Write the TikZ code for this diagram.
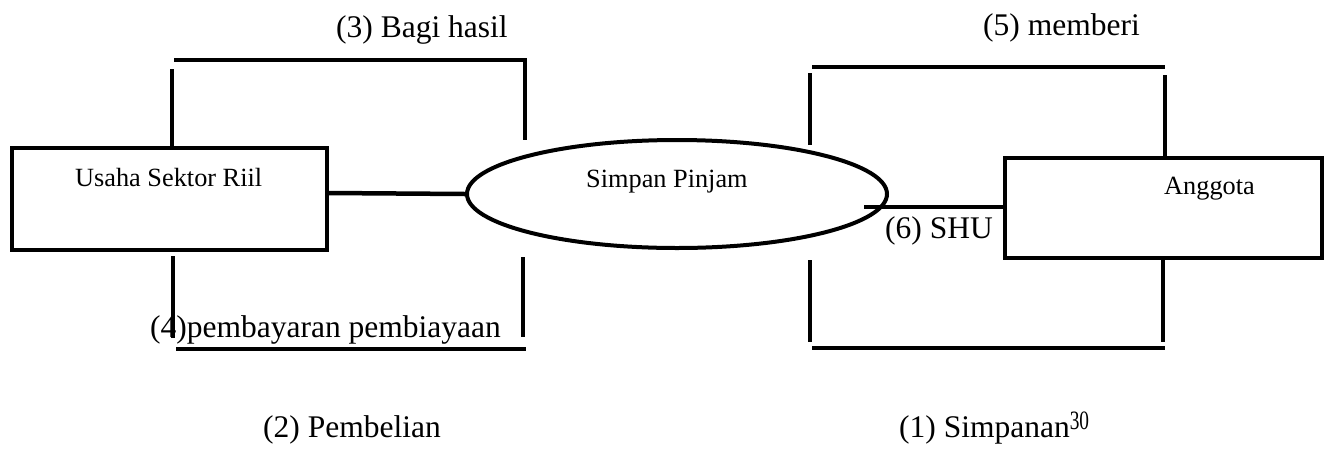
\documentclass[tikz,border=0pt]{standalone}
\usepackage{fontspec}
\setmainfont{Liberation Serif}
\usetikzlibrary{shapes.geometric}
\begin{document}
\begin{tikzpicture}[x=1pt,y=-1pt,
  box/.style={draw,line width=4pt,rectangle,inner sep=0pt},
  oval/.style={draw,line width=4pt,ellipse,inner sep=0pt},
  conn/.style={line width=4.5pt},
  big/.style={inner sep=0pt,anchor=base west,font=\fontsize{31.5}{36}\selectfont},
  small/.style={inner sep=0pt,anchor=base west,font=\fontsize{26.3}{30}\selectfont}]
\useasboundingbox (0,0) rectangle (1325,448);
% shapes
\node[box,minimum width=315pt,minimum height=102pt] (usr) at (169.5,199) {};
\node[box,minimum width=317pt,minimum height=100pt] (ang) at (1163.5,208) {};
\node[oval,minimum width=420pt,minimum height=108pt] (sp) at (677,194) {};
% texts
\node[small] (tusr) at (75,186) {Usaha Sektor Riil};
\node[small] (tsp) at (586,187) {Simpan Pinjam};
\node[small] (tang) at (1164,194) {Anggota};
\node[big] (l3) at (336,37) {(3) Bagi hasil};
\node[big] (l5) at (983,35) {(5) memberi};
\node[big] (l4) at (150,337) {(4)pembayaran pembiayaan};
\node[big] (l6) at (885,238) {(6) SHU};
\node[big] (l2) at (263,437) {(2) Pembelian};
\node[big] (l1) at (899,437) {(1) Simpanan\raisebox{7.5pt}{\scalebox{0.73}[1]{\fontsize{26.5}{26.5}\selectfont 30}}};
% connectors
\draw[conn] (usr.east |- 0,193) -- (sp.west);
\coordinate (shu) at (864,207);
\draw[conn] (shu) -- (ang.west |- shu);
% left brackets
\coordinate (a1) at (172,69);
\draw[conn] (a1) -- (a1 |- usr.north);
\coordinate (a2) at (174,60);
\coordinate (a3) at (525,60);
\coordinate (a4) at (525,140);
\draw[conn] (a2) -- (a3) -- (a4);
\coordinate (b1) at (173,256);
\coordinate (b2) at (173,338);
\draw[conn] (b1) -- (b2);
\coordinate (b3) at (523,257);
\coordinate (b4) at (523,337);
\draw[conn] (b3) -- (b4);
\coordinate (b5) at (176,349);
\coordinate (b6) at (526,349);
\draw[conn] (b5) -- (b6);
% right brackets
\coordinate (c1) at (812,67);
\coordinate (c2) at (1165,67);
\draw[conn] (c1) -- (c2);
\coordinate (c3) at (810,73);
\coordinate (c4) at (810,145);
\draw[conn] (c3) -- (c4);
\coordinate (c5) at (1165,75);
\draw[conn] (c5) -- (c5 |- ang.north);
\coordinate (d1) at (810,260);
\coordinate (d2) at (810,342);
\draw[conn] (d1) -- (d2);
\coordinate (d3) at (1163,342);
\draw[conn] (d3 |- ang.south) -- (d3);
\coordinate (d4) at (812,348);
\coordinate (d5) at (1165,348);
\draw[conn] (d4) -- (d5);
\end{tikzpicture}
\end{document}
